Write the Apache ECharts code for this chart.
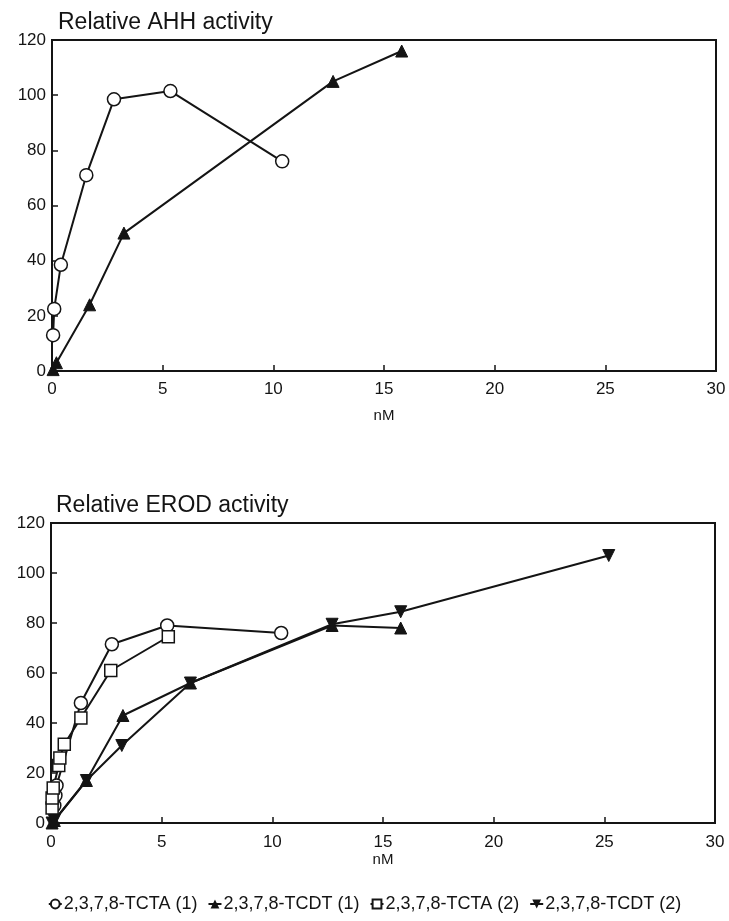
<!DOCTYPE html>
<html>
<head>
<meta charset="utf-8">
<script src="https://cdn.jsdelivr.net/npm/echarts@6/dist/echarts.min.js"></script>
<style>html,body{margin:0;padding:0;background:#fff;}#c{width:729px;height:921px;}</style>
</head>
<body>
<div id="c"></div>
<script>
// ---- Data (x = nM, y = relative activity) ----
const seriesNames = ['2,3,7,8-TCTA (1)', '2,3,7,8-TCDT (1)', '2,3,7,8-TCTA (2)', '2,3,7,8-TCDT (2)'];
const xTicks = [0, 5, 10, 15, 20, 25, 30];
const yTicks = [0, 20, 40, 60, 80, 100, 120];

// Relative AHH activity
const ahhTCTA1 = [[0.05, 13], [0.1, 22.5], [0.4, 38.5], [1.55, 71], [2.8, 98.5], [5.35, 101.5], [10.4, 76]];
const ahhTCDT1 = [[0.05, 0.5], [0.2, 3], [1.7, 24], [3.25, 50], [12.7, 105], [15.8, 116]];

// Relative EROD activity
const erodTCTA1 = [[0.15, 7], [0.2, 11], [0.25, 15], [1.35, 48], [2.75, 71.5], [5.25, 79], [10.4, 76]];
const erodTCDT1 = [[0.05, 0], [0.15, 1], [1.6, 17], [3.25, 43], [6.3, 56], [12.7, 79], [15.8, 78]];
const erodTCTA2 = [[0.05, 6], [0.05, 10], [0.1, 14], [0.35, 23], [0.4, 26], [0.6, 31.5], [1.35, 42], [2.7, 61], [5.3, 74.5]];
const erodTCDT2 = [[0.05, 0], [0.15, 1], [1.6, 17], [3.2, 31], [6.3, 56], [12.7, 79.5], [15.8, 84.5], [25.2, 107]];

const INK = '#141414';
const FONT = 'Liberation Sans, Arial, sans-serif';

function xAxis(gridIndex, gap, margin) {
  return {
    type: 'value', gridIndex, min: xTicks[0], max: xTicks[xTicks.length - 1], interval: 5,
    name: 'nM', nameLocation: 'middle', nameGap: gap,
    nameTextStyle: { color: INK, fontSize: 15, fontFamily: FONT },
    axisLine: { show: true, lineStyle: { color: INK, width: 2 } },
    axisTick: { show: true, inside: true, length: 6, lineStyle: { color: INK, width: 1.5 } },
    axisLabel: { color: INK, fontSize: 17, fontFamily: FONT, margin },
    splitLine: { show: false }
  };
}
function yAxis(gridIndex) {
  return {
    type: 'value', gridIndex, min: yTicks[0], max: yTicks[yTicks.length - 1], interval: 20,
    axisLine: { show: true, lineStyle: { color: INK, width: 2 } },
    axisTick: { show: true, inside: true, length: 6, lineStyle: { color: INK, width: 1.5 } },
    axisLabel: { color: INK, fontSize: 17, fontFamily: FONT, margin: 6 },
    splitLine: { show: false }
  };
}
const lineStyle = { color: INK, width: 2 };
function circleSeries(name, data, xi) {
  return { name, type: 'line', xAxisIndex: xi, yAxisIndex: xi, data, symbol: 'circle', symbolSize: 13,
    showAllSymbol: true, lineStyle, itemStyle: { color: '#fff', borderColor: INK, borderWidth: 1.5 }, z: 3 };
}
function squareSeries(name, data, xi) {
  return { name, type: 'line', xAxisIndex: xi, yAxisIndex: xi, data, symbol: 'rect', symbolSize: 12,
    showAllSymbol: true, lineStyle, itemStyle: { color: '#fff', borderColor: INK, borderWidth: 1.5 }, z: 3 };
}
function triSeries(name, data, xi, down) {
  return { name, type: 'line', xAxisIndex: xi, yAxisIndex: xi, data, symbol: 'triangle', symbolSize: 12,
    symbolRotate: down ? 180 : 0, showAllSymbol: true, lineStyle, itemStyle: { color: INK, borderColor: INK }, z: 4 };
}

const chart = echarts.init(document.getElementById('c'), null, { renderer: 'canvas' });
chart.setOption({
  backgroundColor: '#fff',
  animation: false,
  title: [
    { text: 'Relative AHH activity', left: 58, top: 11, padding: 0, textStyle: { color: INK, fontSize: 23, fontWeight: 'normal', fontFamily: FONT } },
    { text: 'Relative EROD activity', left: 56, top: 494, padding: 0, textStyle: { color: INK, fontSize: 23, fontWeight: 'normal', fontFamily: FONT } }
  ],
  grid: [
    { left: 52, right: 13, top: 40, height: 331, show: true, borderColor: INK, borderWidth: 2, backgroundColor: 'transparent' },
    { left: 51, right: 14, top: 523, height: 300, show: true, borderColor: INK, borderWidth: 2, backgroundColor: 'transparent' }
  ],
  xAxis: [xAxis(0, 37, 10), xAxis(1, 28, 11)],
  yAxis: [yAxis(0), yAxis(1)],
  legend: {
    data: seriesNames, top: 895, left: 'center', itemGap: 10, itemWidth: 13, itemHeight: 11, padding: 0,
    textStyle: { color: INK, fontSize: 18, fontFamily: FONT, padding: [0, 0, 0, -3] }
  },
  series: [
    circleSeries(seriesNames[0], ahhTCTA1, 0),
    triSeries(seriesNames[1], ahhTCDT1, 0, false),
    circleSeries(seriesNames[0], erodTCTA1, 1),
    triSeries(seriesNames[1], erodTCDT1, 1, false),
    squareSeries(seriesNames[2], erodTCTA2, 1),
    triSeries(seriesNames[3], erodTCDT2, 1, true)
  ]
});
</script>
</body>
</html>
